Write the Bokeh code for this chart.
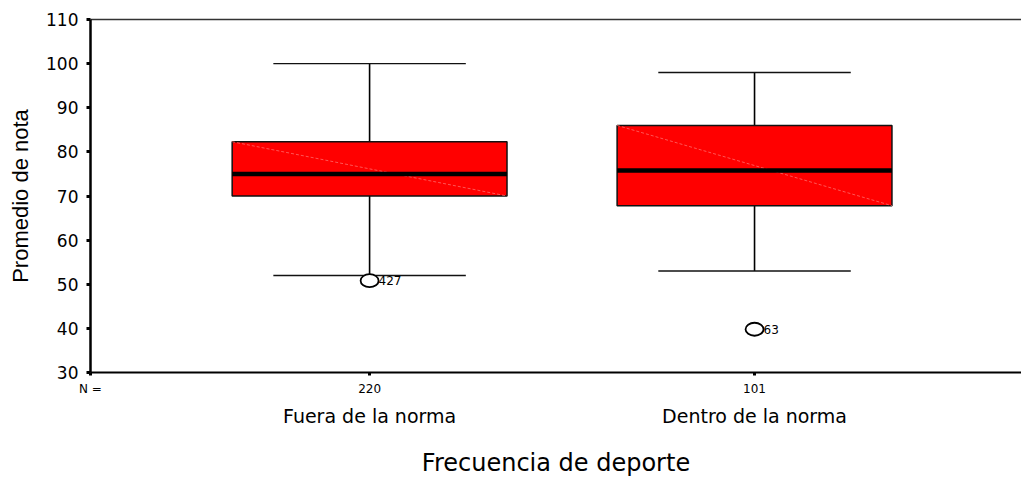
import numpy as np
from bokeh.plotting import figure
from bokeh.models import Range1d, LinearAxis, FixedTicker, ColumnDataSource
from bokeh.core.properties import value
from bokeh.embed import file_html
from bokeh.resources import INLINE

# ---- data ----
categories = ["Fuera de la norma", "Dentro de la norma"]
n_counts = ["220", "101"]
positions = [1, 2]
q1 = [70.0, 67.8]
median = [75.0, 75.8]
q3 = [82.3, 86.0]
lower_whisker = [52.0, 53.0]
upper_whisker = [100.0, 98.0]
outlier_group = [1, 2]
outlier_value = [50.8, 39.8]
outlier_label = ["427", "63"]
y_ticks = [30, 40, 50, 60, 70, 80, 90, 100, 110]

BOX_W = 0.714
CAP_W = 0.5
X_START, X_END = 0.275, 2.6935
FONT = "DejaVu Sans"

pos = np.array(positions, dtype=float)
src = ColumnDataSource(dict(
    x=pos, q1=q1, med=median, q3=q3, lo=lower_whisker, hi=upper_whisker,
    left=pos - BOX_W / 2, right=pos + BOX_W / 2,
    capl=pos - CAP_W / 2, capr=pos + CAP_W / 2,
))
osrc = ColumnDataSource(dict(x=outlier_group, y=outlier_value, t=outlier_label))

p = figure(width=1021, height=479, output_backend="svg", toolbar_location=None,
           x_range=Range1d(X_START, X_END), y_range=Range1d(y_ticks[0], y_ticks[-1]),
           min_border_left=90, min_border_top=19, min_border_bottom=107, min_border_right=0)
p.xgrid.visible = False
p.ygrid.visible = False
p.outline_line_color = None
p.background_fill_color = "white"
p.border_fill_color = "white"

# whiskers
p.segment(x0="x", y0="q3", x1="x", y1="hi", source=src, line_color="black", line_width=1.6)
p.segment(x0="x", y0="q1", x1="x", y1="lo", source=src, line_color="black", line_width=1.6)
p.segment(x0="capl", y0="hi", x1="capr", y1="hi", source=src, line_color="#111111", line_width=1.4)
p.segment(x0="capl", y0="lo", x1="capr", y1="lo", source=src, line_color="#111111", line_width=1.4)
# boxes
p.vbar(x="x", width=BOX_W, bottom="q1", top="q3", source=src,
       fill_color="#ff0000", line_color="#111111", line_width=1.5)
p.segment(x0="left", y0="q3", x1="right", y1="q1", source=src,
          line_color="#ff6a6a", line_width=1, line_dash="3 2", line_alpha=0.8)
p.segment(x0="left", y0="med", x1="right", y1="med", source=src,
          line_color="black", line_width=4.5)
# outliers
p.ellipse(x="x", y="y", width=18, height=13, width_units="screen", height_units="screen",
          source=osrc, fill_color="white", line_color="black", line_width=1.8)
p.text(x="x", y="y", text="t", source=osrc, x_offset=9, text_baseline="middle",
       text_font=value(FONT), text_font_size="12px", text_color="black")

# y axis
ya = p.yaxis[0]
ya.ticker = FixedTicker(ticks=y_ticks)
ya.minor_tick_line_color = None
ya.major_tick_in = 0
ya.major_tick_out = 4
ya.major_tick_line_width = 3
ya.major_tick_line_color = "black"
ya.axis_line_width = 2.5
ya.axis_line_color = "black"
ya.major_label_standoff = 8
ya.major_label_text_font = FONT
ya.major_label_text_font_size = "17px"
ya.major_label_text_color = "black"
ya.axis_label = "Promedio de nota"
ya.axis_label_text_font = "Liberation Sans"
ya.axis_label_text_font_size = "22px"
ya.axis_label_text_font_style = "normal"
ya.axis_label_text_color = "black"
ya.axis_label_standoff = 10

# x axis 1: N counts
xa = p.xaxis[0]
xa.ticker = FixedTicker(ticks=[X_START] + positions)
overrides = {X_START: "N ="}
for ps, n in zip(positions, n_counts):
    overrides[ps] = n
xa.major_label_overrides = overrides
xa.minor_tick_line_color = None
xa.major_tick_in = 0
xa.major_tick_out = 3
xa.major_tick_line_width = 3
xa.major_tick_line_color = "black"
xa.axis_line_width = 2
xa.axis_line_color = "black"
xa.major_label_standoff = 6
xa.major_label_text_font = FONT
xa.major_label_text_font_size = "12px"
xa.major_label_text_color = "black"

# x axis 2: category names + title
xb = LinearAxis(ticker=FixedTicker(ticks=positions),
                major_label_overrides={ps: c for ps, c in zip(positions, categories)})
xb.axis_line_color = None
xb.major_tick_line_color = None
xb.minor_tick_line_color = None
xb.major_label_standoff = 0
xb.major_label_text_font = FONT
xb.major_label_text_font_size = "19px"
xb.major_label_text_color = "black"
xb.axis_label = "Frecuencia de deporte"
xb.axis_label_text_font = FONT
xb.axis_label_text_font_size = "24px"
xb.axis_label_text_font_style = "normal"
xb.axis_label_text_color = "black"
xb.axis_label_standoff = 19
p.add_layout(xb, "below")

# top frame line
top = LinearAxis(ticker=FixedTicker(ticks=[]), major_label_text_font_size="0px",
                 major_tick_line_color=None, minor_tick_line_color=None,
                 axis_line_color="#333333", axis_line_width=1.5)
p.add_layout(top, "above")

open("out.html", "w").write(file_html(p, INLINE))
